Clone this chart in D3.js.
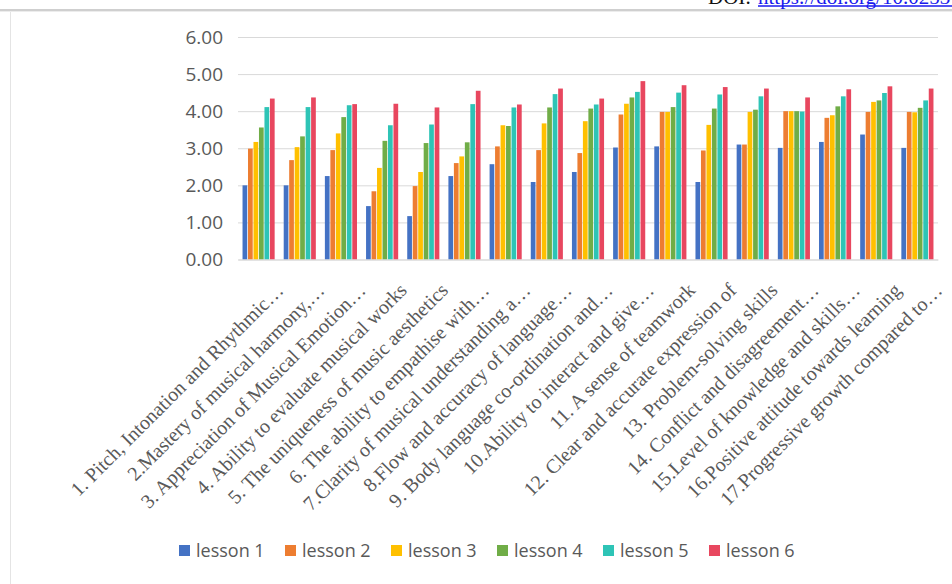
<!DOCTYPE html>
<html>
<head>
<meta charset="utf-8">
<script src="https://cdn.jsdelivr.net/npm/d3@7"></script>
<style>
  html, body { margin: 0; padding: 0; background: #ffffff; }
  svg { display: block; }
</style>
</head>
<body>
<svg id="chart" width="952" height="584"></svg>
<script>
// Skill items assessed after each lesson
const categories = [
  "1. Pitch, Intonation and Rhythmic\u2026",
  "2.Mastery of musical harmony,\u2026",
  "3. Appreciation of Musical Emotion\u2026",
  "4. Ability to evaluate musical works",
  "5. The uniqueness of music aesthetics",
  "6. The ability to empathise with\u2026",
  "7.Clarity of musical understanding a\u2026",
  "8.Flow and accuracy of language\u2026",
  "9. Body language co-ordination and\u2026",
  "10.Ability to interact and give\u2026",
  "11. A sense of teamwork",
  "12. Clear and accurate expression of",
  "13. Problem-solving skills",
  "14. Conflict and disagreement\u2026",
  "15.Level of knowledge and skills\u2026",
  "16.Positive attitude towards learning",
  "17.Progressive growth compared to\u2026"
];

const lessons = ["lesson 1", "lesson 2", "lesson 3", "lesson 4", "lesson 5", "lesson 6"];

// Mean scores per item for each lesson
const lesson1 = [2.00, 2.00, 2.25, 1.44, 1.17, 2.25, 2.57, 2.09, 2.36, 3.02, 3.05, 2.09, 3.10, 3.01, 3.17, 3.37, 3.01];
const lesson2 = [2.99, 2.68, 2.95, 1.84, 1.98, 2.60, 3.05, 2.95, 2.87, 3.91, 3.98, 2.94, 3.10, 4.00, 3.82, 3.98, 3.98];
const lesson3 = [3.17, 3.03, 3.40, 2.47, 2.36, 2.78, 3.62, 3.67, 3.73, 4.20, 3.98, 3.63, 3.98, 4.00, 3.89, 4.25, 3.97];
const lesson4 = [3.56, 3.32, 3.84, 3.20, 3.14, 3.16, 3.60, 4.10, 4.07, 4.37, 4.11, 4.07, 4.04, 4.00, 4.13, 4.29, 4.09];
const lesson5 = [4.11, 4.11, 4.16, 3.62, 3.64, 4.19, 4.10, 4.46, 4.18, 4.52, 4.50, 4.45, 4.40, 3.99, 4.40, 4.49, 4.29];
const lesson6 = [4.34, 4.37, 4.19, 4.20, 4.10, 4.55, 4.18, 4.61, 4.34, 4.81, 4.70, 4.65, 4.61, 4.37, 4.59, 4.67, 4.61];

const yTicks = [0, 1, 2, 3, 4, 5, 6];

const seriesValues = [lesson1, lesson2, lesson3, lesson4, lesson5, lesson6];
const colors = ["#4472C4", "#ED7D31", "#FFC000", "#70AD47", "#2EC4B6", "#E8475F"];

const svg = d3.select("#chart");

// Page header strip with the article DOI, cut off at the top edge
const header = svg.append("g");
header.append("text")
  .attr("x", 708).attr("y", 4)
  .attr("font-family", "Liberation Serif, serif")
  .attr("font-size", 21)
  .attr("fill", "#111")
  .text("DOI:");
header.append("text")
  .attr("x", 758).attr("y", 4)
  .attr("font-family", "Liberation Serif, serif")
  .attr("font-size", 21)
  .attr("fill", "#1a1aee")
  .text("https://doi.org/10.0253");
header.append("line")
  .attr("x1", 758).attr("x2", 952).attr("y1", 6).attr("y2", 6)
  .attr("stroke", "#1a1aee").attr("stroke-width", 1.5);

// Frame of the figure
svg.append("rect").attr("x", 0).attr("y", 9).attr("width", 952).attr("height", 2).attr("fill", "#cfcfcf");
svg.append("rect").attr("x", 0).attr("y", 11).attr("width", 952).attr("height", 1).attr("fill", "#ececec");
svg.append("line").attr("x1", 10.5).attr("x2", 10.5).attr("y1", 12).attr("y2", 584)
  .attr("stroke", "#e4e4e4").attr("stroke-width", 1);

// Scales
const plotLeft = 238, plotRight = 938;
const x0 = d3.scaleBand().domain(categories).range([plotLeft, plotRight])
  .paddingInner(0.22).paddingOuter(0.11);
const x1 = d3.scaleBand().domain(lessons).range([0, x0.bandwidth()]).paddingInner(0.14);
const y = d3.scaleLinear().domain([0, 6]).range([259.5, 37]);

// Gridlines and value axis
const yAxis = svg.append("g")
  .attr("transform", `translate(${plotLeft},0)`)
  .call(d3.axisLeft(y).tickValues(yTicks).tickFormat(d3.format(".2f"))
    .tickSize(-(plotRight - plotLeft)).tickPadding(15));
yAxis.select(".domain").remove();
yAxis.selectAll(".tick line").attr("stroke", "#d9d9d9").attr("stroke-width", 1);
yAxis.selectAll(".tick text")
  .attr("font-family", "Open Sans, sans-serif")
  .attr("font-size", 19)
  .attr("fill", "#595959");

// Bars
const groups = svg.append("g").selectAll("g")
  .data(categories)
  .join("g")
  .attr("transform", d => `translate(${x0(d)},0)`);

groups.selectAll("rect")
  .data((d, i) => lessons.map((l, k) => ({ lesson: l, k, value: seriesValues[k][i] })))
  .join("rect")
  .attr("x", d => x1(d.lesson))
  .attr("width", x1.bandwidth())
  .attr("y", d => y(d.value))
  .attr("height", d => y(0) - y(d.value))
  .attr("fill", d => colors[d.k]);

// Category axis with slanted labels
const xAxis = svg.append("g")
  .attr("transform", `translate(0,${y(0)})`)
  .call(d3.axisBottom(x0).tickSize(0).tickSizeOuter(0));
xAxis.select(".domain").attr("stroke", "#d9d9d9");
xAxis.selectAll(".tick text")
  .attr("x", 0).attr("y", 0).attr("dy", 0)
  .attr("transform", "translate(26,32) rotate(-45)")
  .attr("text-anchor", "end")
  .attr("font-family", "Liberation Serif, serif")
  .attr("font-size", 20)
  .attr("fill", "#595959");

// Legend
const legend = svg.append("g").selectAll("g")
  .data(lessons)
  .join("g")
  .attr("transform", (d, i) => `translate(${179 + i * 106},551)`);
legend.append("rect")
  .attr("x", 0).attr("y", -6).attr("width", 11).attr("height", 11)
  .attr("fill", (d, i) => colors[i]);
legend.append("text")
  .attr("x", 17).attr("y", 0).attr("dy", "0.36em")
  .attr("font-family", "Open Sans, sans-serif")
  .attr("font-size", 18)
  .attr("fill", "#595959")
  .text(d => d);
</script>
</body>
</html>
